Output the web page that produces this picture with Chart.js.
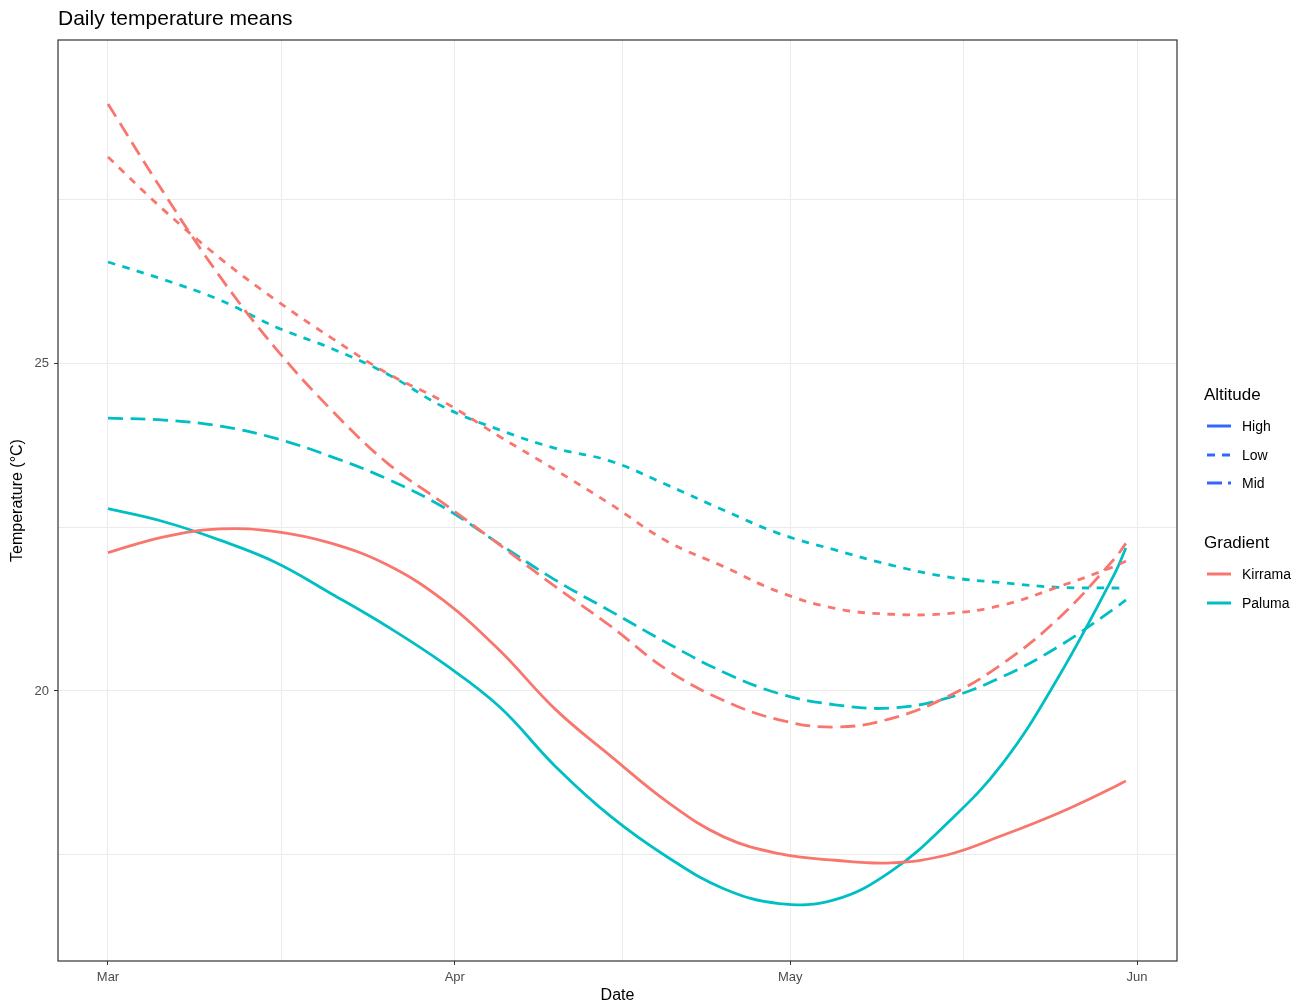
<!DOCTYPE html>
<html>
<head>
<meta charset="utf-8">
<script src="https://cdn.jsdelivr.net/npm/chart.js@4.4.0/dist/chart.umd.min.js"></script>
<style>
  body { margin: 0; background: #fff; font-family: "Liberation Sans", Arial, sans-serif; }
  #wrap { position: relative; width: 1298px; height: 1005px; }
  #title { position: absolute; left: 58px; top: 6px; font-size: 21px; color: #000; }
  .leg { position: absolute; color: #000; white-space: nowrap; }
  .legTitle { font-size: 17px; }
  .legItem { font-size: 14px; }
  svg.key { position: absolute; }
</style>
</head>
<body>
<div id="wrap">
  <canvas id="tempChart" width="1298" height="1005"></canvas>
  <div id="title">Daily temperature means</div>
  <div id="legend"></div>
</div>
<script>
// ======================
// DATA (days since 1 March)
// ======================
const days = [0, 5, 10, 15, 20, 25, 30, 35, 40, 45, 50, 55, 60, 65, 70, 75, 80, 85, 90, 91];

const kirramaHigh = [22.11, 22.35, 22.47, 22.43, 22.25, 21.92, 21.38, 20.62, 19.72, 19.00, 18.31, 17.78, 17.52, 17.42, 17.38, 17.50, 17.80, 18.14, 18.54, 18.63];
const kirramaLow  = [28.14, 27.33, 26.60, 25.96, 25.38, 24.84, 24.41, 23.88, 23.37, 22.84, 22.28, 21.90, 21.51, 21.26, 21.17, 21.18, 21.31, 21.59, 21.90, 21.98];
const kirramaMid  = [28.95, 27.59, 26.32, 25.22, 24.28, 23.47, 22.86, 22.23, 21.59, 20.98, 20.32, 19.86, 19.56, 19.45, 19.58, 19.91, 20.42, 21.11, 22.02, 22.25];
const palumaHigh  = [22.78, 22.58, 22.30, 21.96, 21.48, 20.98, 20.42, 19.76, 18.85, 18.08, 17.47, 16.99, 16.76, 16.82, 17.25, 17.98, 18.90, 20.22, 21.79, 22.18];
const palumaLow   = [26.54, 26.27, 25.96, 25.55, 25.22, 24.83, 24.33, 23.98, 23.70, 23.50, 23.14, 22.76, 22.40, 22.15, 21.92, 21.74, 21.65, 21.58, 21.57, 21.57];
const palumaMid   = [24.16, 24.13, 24.04, 23.85, 23.57, 23.23, 22.80, 22.24, 21.69, 21.21, 20.73, 20.29, 19.96, 19.79, 19.74, 19.89, 20.22, 20.68, 21.26, 21.39];

const monthTicks = [0, 31, 61, 92];
const monthLabels = ["Mar", "Apr", "May", "Jun"];
const xMinorTicks = [15.5, 46, 76.5];
const yMajorTicks = [20, 25];
const yMinorTicks = [17.5, 22.5, 27.5];

const gradientColors = { Kirrama: "#F8766D", Paluma: "#00BFC4" };
const altitudeDash = { High: [], Low: [7.5, 7.5], Mid: [15, 7.5] };

// ======================
// BUILD DATASETS
// ======================
function makeSet(label, values, gradient, altitude) {
    return {
        label: label,
        data: days.map((d, i) => ({ x: d, y: values[i] })),
        borderColor: gradientColors[gradient],
        borderWidth: 2.8,
        borderDash: altitudeDash[altitude],
        pointRadius: 0,
        tension: 0.4,
        fill: false
    };
}

const datasets = [
    makeSet("Kirrama High", kirramaHigh, "Kirrama", "High"),
    makeSet("Kirrama Low", kirramaLow, "Kirrama", "Low"),
    makeSet("Kirrama Mid", kirramaMid, "Kirrama", "Mid"),
    makeSet("Paluma High", palumaHigh, "Paluma", "High"),
    makeSet("Paluma Low", palumaLow, "Paluma", "Low"),
    makeSet("Paluma Mid", palumaMid, "Paluma", "Mid")
];

// panel border like ggplot theme_bw
const panelBorder = {
    id: "panelBorder",
    afterDraw(chart) {
        const a = chart.chartArea;
        const c = chart.ctx;
        c.save();
        c.strokeStyle = "#333333";
        c.lineWidth = 1.2;
        c.strokeRect(a.left, a.top, a.right - a.left, a.bottom - a.top);
        c.restore();
    }
};

const isMajor = (list, v) => list.some(t => Math.abs(t - v) < 1e-6);

Chart.defaults.font.family = "'Liberation Sans', Arial, sans-serif";

new Chart(document.getElementById("tempChart"), {
    type: "line",
    data: { datasets: datasets },
    plugins: [panelBorder],
    options: {
        responsive: false,
        animation: false,
        layout: { padding: { top: 40, right: 121, left: 0, bottom: 0 } },
        plugins: { legend: { display: false }, tooltip: { enabled: false } },
        scales: {
            x: {
                type: "linear",
                min: -4.47,
                max: 95.57,
                afterFit(scale) { scale.height = 44; },
                afterBuildTicks(scale) {
                    scale.ticks = monthTicks.concat(xMinorTicks).sort((a, b) => a - b).map(v => ({ value: v }));
                },
                ticks: {
                    autoSkip: false,
                    maxRotation: 0,
                    padding: 5,
                    color: "#4D4D4D",
                    font: { size: 13 },
                    callback(v) {
                        const i = monthTicks.indexOf(v);
                        return i >= 0 ? monthLabels[i] : "";
                    }
                },
                grid: {
                    color: "#EBEBEB",
                    lineWidth: 1,
                    tickLength: 4,
                    tickWidth: 1,
                    tickColor: ctx => isMajor(monthTicks, ctx.tick.value) ? "#333333" : "rgba(0,0,0,0)"
                },
                border: { display: false },
                title: { display: true, text: "Date", color: "#000", font: { size: 16 }, padding: { top: 0, bottom: 0 } }
            },
            y: {
                type: "linear",
                min: 15.884,
                max: 29.924,
                afterFit(scale) { scale.width = 58; },
                afterBuildTicks(scale) {
                    scale.ticks = yMajorTicks.concat(yMinorTicks).sort((a, b) => a - b).map(v => ({ value: v }));
                },
                ticks: {
                    padding: 5,
                    color: "#4D4D4D",
                    font: { size: 13 },
                    callback(v) { return isMajor(yMajorTicks, v) ? String(v) : ""; }
                },
                grid: {
                    color: "#EBEBEB",
                    lineWidth: 1,
                    tickLength: 4,
                    tickWidth: 1,
                    tickColor: ctx => isMajor(yMajorTicks, ctx.tick.value) ? "#333333" : "rgba(0,0,0,0)"
                },
                border: { display: false },
                title: { display: true, text: "Temperature (°C)", color: "#000", font: { size: 16 }, padding: { top: 8, bottom: 0 } }
            }
        }
    }
});

// ======================
// LEGEND (two guides, like ggplot)
// ======================
const legend = document.getElementById("legend");
function addText(text, cls, left, centerY) {
    const d = document.createElement("div");
    d.className = "leg " + cls;
    d.textContent = text;
    d.style.left = left + "px";
    d.style.top = centerY + "px";
    d.style.transform = "translateY(-50%)";
    legend.appendChild(d);
}
function addKey(color, dash, centerY) {
    const ns = "http://www.w3.org/2000/svg";
    const s = document.createElementNS(ns, "svg");
    s.setAttribute("class", "key");
    s.setAttribute("width", "26");
    s.setAttribute("height", "10");
    s.style.left = "1206px";
    s.style.top = (centerY - 5) + "px";
    const l = document.createElementNS(ns, "line");
    l.setAttribute("x1", "1"); l.setAttribute("x2", "25");
    l.setAttribute("y1", "5"); l.setAttribute("y2", "5");
    l.setAttribute("stroke", color);
    l.setAttribute("stroke-width", "3");
    if (dash.length) l.setAttribute("stroke-dasharray", dash.join(" "));
    s.appendChild(l);
    legend.appendChild(s);
}

const altitudeNames = ["High", "Low", "Mid"];
const altitudeKeyDash = { High: [], Low: [8, 7], Mid: [15, 6] };
addText("Altitude", "legTitle", 1204, 395);
altitudeNames.forEach((n, i) => {
    const y = 426 + i * 28.5;
    addKey("#3366FF", altitudeKeyDash[n], y);
    addText(n, "legItem", 1242, y);
});

const gradientNames = ["Kirrama", "Paluma"];
addText("Gradient", "legTitle", 1204, 543);
gradientNames.forEach((n, i) => {
    const y = 574 + i * 28.5;
    addKey(gradientColors[n], [], y);
    addText(n, "legItem", 1242, y);
});
</script>
</body>
</html>
